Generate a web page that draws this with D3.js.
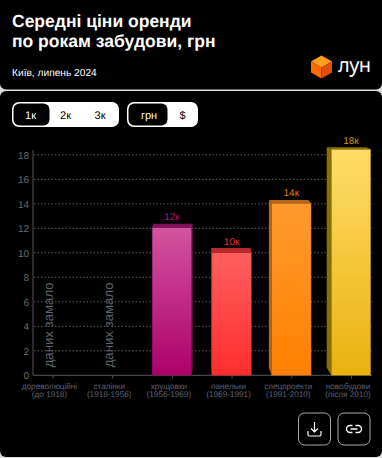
<!DOCTYPE html>
<html>
<head>
<meta charset="utf-8">
<script src="https://cdn.jsdelivr.net/npm/d3@7"></script>
<style>
  body { margin: 0; background: #000; }
  svg { display: block; font-family: "Liberation Sans", Arial, sans-serif; text-rendering: geometricPrecision; opacity: 0.999; }
</style>
</head>
<body>
<div id="chart"></div>
<script>
// data
var periods = ["дореволюційні", "сталінки", "хрущовки", "панельки", "спецпроекти", "новобудови"];
var years = ["(до 1918)", "(1918-1956)", "(1956-1969)", "(1969-1991)", "(1991-2010)", "(після 2010)"];
var prices = [null, null, 12.05, 10, 14.04, 18.45];
var priceLabels = ["", "", "12к", "10к", "14к", "18к"];
var yTicks = [0, 2, 4, 6, 8, 10, 12, 14, 16, 18];
var noDataText = "даних замало";

// front top / front bottom / side / label colours per bar
var colTop = [null, null, "#d2549f", "#ff5f5f", "#ff9a2e", "#ffdc68"];
var colBottom = [null, null, "#ad0069", "#ff2d2d", "#ff8000", "#e9b20f"];
var colSide = [null, null, "#7e1257", "#bb2a2a", "#b8651b", "#8a7000"];
var colLabel = [null, null, "#b4107c", "#e5322f", "#e57a12", "#c99c12"];

var svg = d3.select("#chart").append("svg").attr("width", 382).attr("height", 458);

// page + cards
svg.append("rect").attr("y", 80).attr("width", 382).attr("height", 378).attr("fill", "#dcdcdc");
svg.append("rect").attr("width", 382).attr("height", 89.5).attr("rx", 6).attr("fill", "#000");
svg.append("rect").attr("y", 91).attr("width", 382).attr("height", 366).attr("rx", 6).attr("fill", "#000");

// header
svg.append("text").attr("x", 12).attr("y", 27).attr("fill", "#fff").attr("font-size", 17.5).attr("font-weight", 700).text("Середні ціни оренди");
svg.append("text").attr("x", 12).attr("y", 46.5).attr("fill", "#fff").attr("font-size", 17.5).attr("font-weight", 700).text("по рокам забудови, грн");
svg.append("text").attr("x", 12).attr("y", 76).attr("fill", "#fff").attr("font-size", 10.2).text("Київ, липень 2024");

// logo
var logo = svg.append("g").attr("transform", "translate(321.5,67)");
logo.append("path").attr("d", "M0,-11.5L10.5,-5.5L0,0.5L-10.5,-5.5Z").attr("fill", "#ff9c20");
logo.append("path").attr("d", "M-10.5,-5.5L0,0.5L0,11.5L-10.5,5.5Z").attr("fill", "#ff6a06");
logo.append("path").attr("d", "M10.5,-5.5L0,0.5L0,11.5L10.5,5.5Z").attr("fill", "#e24e02");
svg.append("text").attr("x", 338).attr("y", 71.5).attr("fill", "#fff").attr("font-size", 20)
  .attr("font-family", "'Noto Sans'").attr("textLength", 33).text("лун");

// toggle buttons
function toggle(x, w, selW, labels) {
  var g = svg.append("g");
  g.append("rect").attr("x", x).attr("y", 102).attr("width", w).attr("height", 25).attr("rx", 7).attr("fill", "#fff");
  g.append("rect").attr("x", x + 1.5).attr("y", 103.5).attr("width", selW).attr("height", 22).attr("rx", 6).attr("fill", "#000");
  labels.forEach(function(l, i) {
    g.append("text").attr("x", l[1]).attr("y", 119).attr("text-anchor", "middle")
      .attr("font-size", 11).attr("fill", i == 0 ? "#fff" : "#000").text(l[0]);
  });
}
toggle(12, 107, 36, [["1к", 30.5], ["2к", 65.5], ["3к", 100]]);
toggle(127, 71, 39, [["грн", 149], ["$", 182.5]]);

// scales
var x = d3.scalePoint().domain(periods).range([52.5, 351]);
var y = d3.scaleLinear().domain([0, 18]).range([375.3, 154.8]);
var barWidth = 39.5;

// grid
svg.append("g").selectAll("line").data(yTicks.slice(1)).enter().append("line")
  .attr("x1", 34).attr("x2", 372)
  .attr("y1", function(d) { return y(d); }).attr("y2", function(d) { return y(d); })
  .attr("stroke", "#5c5c5c").attr("stroke-dasharray", "1.5 2");

// y axis
var yAxis = svg.append("g").attr("transform", "translate(33,0)")
  .call(d3.axisLeft(y).tickValues(yTicks).tickSize(0).tickPadding(4));
yAxis.select(".domain").attr("stroke", "#45454d").attr("stroke-width", 1.2).attr("d", "M0,150V375.3");
yAxis.selectAll("text").attr("fill", "#696969").attr("font-size", 10).attr("font-family", "'Liberation Sans'");

// x axis
var xAxis = svg.append("g").attr("transform", "translate(0,375.3)")
  .call(d3.axisBottom(x).tickSize(3).tickFormat(""));
xAxis.select(".domain").attr("stroke", "#45454d").attr("stroke-width", 1.2).attr("d", "M33,0H372");
xAxis.selectAll("line").attr("stroke", "#55555f");

periods.forEach(function(p, i) {
  svg.append("text").attr("x", x(p) - 3).attr("y", 389).attr("text-anchor", "middle")
    .attr("font-size", 8.2).attr("fill", "#5f6172").text(p);
  svg.append("text").attr("x", x(p) - 3).attr("y", 397).attr("text-anchor", "middle")
    .attr("font-size", 8.2).attr("fill", "#5f6172").text(years[i]);
});

// bars, 3d look: the back face is pulled towards a vanishing point
var defs = svg.append("defs");
var vpX = 205, vpY = 72, depthX = 0.031, depthY = 0.026;

periods.forEach(function(p, i) {
  if (prices[i] == null) {
    svg.append("text")
      .attr("transform", "translate(" + (x(p) + 0.5) + "," + y(0.65) + ") rotate(-90)")
      .attr("font-size", 13.2).attr("fill", "#5f6068").text(noDataText);
    return;
  }
  var left = x(p) - barWidth / 2, right = x(p) + barWidth / 2;
  var top = y(prices[i]), bottom = y(0);

  var grad = defs.append("linearGradient").attr("id", "bar" + i)
    .attr("x1", 0).attr("x2", 0).attr("y1", 0).attr("y2", 1);
  grad.append("stop").attr("offset", 0).attr("stop-color", colTop[i]);
  grad.append("stop").attr("offset", 1).attr("stop-color", colBottom[i]);

  var dx = (vpX - x(p)) * depthX;
  var backTop = top + (vpY - top) * depthY;
  var backBottom = bottom + (vpY - bottom) * depthY;
  var tl = [left + dx, backTop], tr = [right + dx, backTop];
  var bl = [left + dx, backBottom], br = [right + dx, backBottom];

  // side face that can be seen
  if (dx < 0) {
    svg.append("polygon").attr("fill", colSide[i])
      .attr("points", [[left, top], tl, bl, [left, bottom]].join(" "));
  } else {
    svg.append("polygon").attr("fill", colSide[i])
      .attr("points", [[right, top], tr, br, [right, bottom]].join(" "));
  }
  // top face
  svg.append("polygon").attr("fill", colSide[i])
    .attr("points", [[left, top], tl, tr, [right, top]].join(" "));
  // front
  svg.append("rect").attr("x", left).attr("y", top).attr("width", barWidth).attr("height", bottom - top)
    .attr("fill", "url(#bar" + i + ")").attr("stroke", colSide[i]).attr("stroke-width", 0.6).attr("stroke-opacity", 0.7);

  svg.append("text").attr("x", x(p)).attr("y", backTop - 3.5).attr("text-anchor", "middle")
    .attr("font-size", 10).attr("fill", colLabel[i]).text(priceLabels[i]);
});

// download + link buttons
[298.5, 338].forEach(function(bx) {
  svg.append("rect").attr("x", bx).attr("y", 413).attr("width", 32).attr("height", 32).attr("rx", 6)
    .attr("fill", "#000").attr("stroke", "#a8a8a8");
});
svg.append("path").attr("transform", "translate(314.5,429)")
  .attr("d", "M0,-7V3M-3.5,-0.5L0,3L3.5,-0.5M-6.5,2V5.5Q-6.5,7 -5,7H5Q6.5,7 6.5,5.5V2")
  .attr("fill", "none").attr("stroke", "#fff").attr("stroke-width", 1.2);
svg.append("path").attr("transform", "translate(354,429)")
  .attr("d", "M-1.5,-3.5H-4A3.5,3.5 0 0 0 -4,3.5H-1.5M1.5,-3.5H4A3.5,3.5 0 0 1 4,3.5H1.5M-3.5,0H3.5")
  .attr("fill", "none").attr("stroke", "#fff").attr("stroke-width", 1.4);
</script>
</body>
</html>
